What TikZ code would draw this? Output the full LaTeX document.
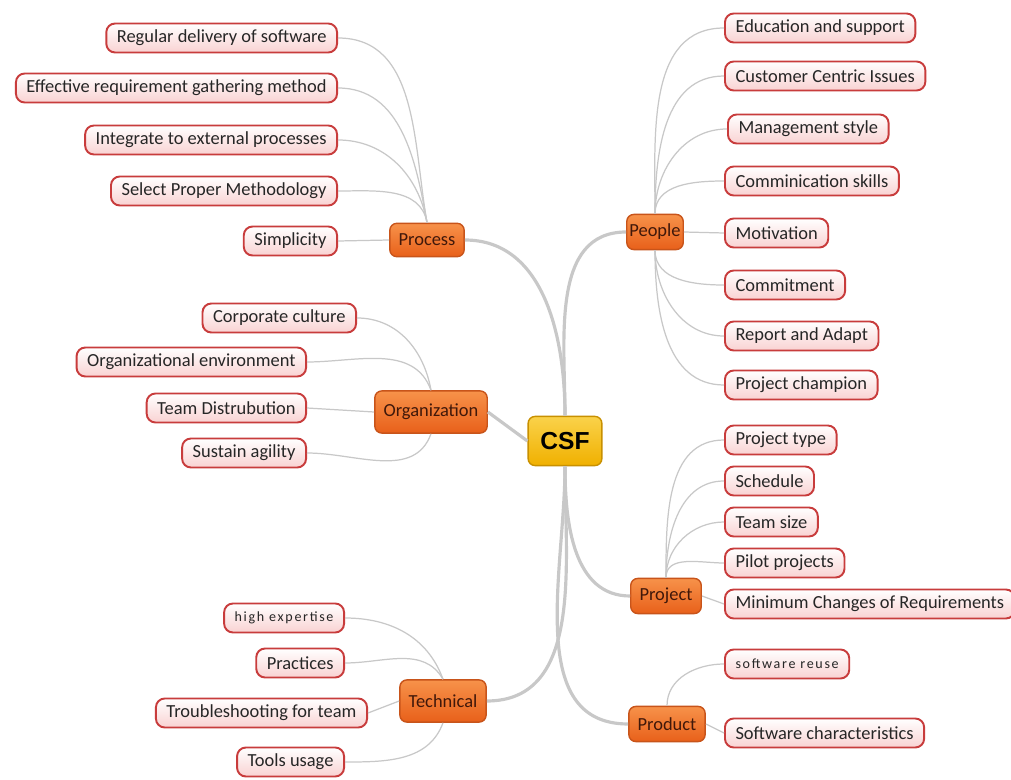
\documentclass[tikz,border=0pt]{standalone}
\usepackage{fontspec}
\setmainfont{Carlito}
\newfontfamily\hubfont{Liberation Sans}
\usepackage{tikz}
\usetikzlibrary{positioning,shapes.geometric,arrows.meta}
\definecolor{leafred}{HTML}{C83C3C}
\definecolor{leafpink}{HTML}{F9D2D2}
\definecolor{catlight}{HTML}{F7924A}
\definecolor{catorange}{HTML}{E8601A}
\definecolor{catborder}{HTML}{C8541A}
\definecolor{cattext}{HTML}{40180A}
\definecolor{csflight}{HTML}{FAD24A}
\definecolor{csfgold}{HTML}{F0B000}
\definecolor{csfborder}{HTML}{C89000}
\definecolor{linkgray}{HTML}{C8C8C8}

\tikzset{
  leaf/.style={draw=leafred, line width=1.1pt, rounded corners=5pt,
    top color=white, bottom color=leafpink, minimum height=16.5pt,
    inner xsep=6pt, font=\fontsize{10.5}{12}\selectfont, text=black!85},
  tiny/.style={font=\fontsize{8}{9}\selectfont\addfontfeatures{LetterSpace=12}},
  topic/.style={draw=catborder, line width=0.8pt, rounded corners=4pt,
    top color=catlight, bottom color=catorange, minimum height=19pt,
    inner xsep=5pt, font=\fontsize{10.5}{12}\selectfont, text=cattext},
  hub/.style={draw=csfborder, line width=0.8pt, rounded corners=4pt,
    top color=csflight, bottom color=csfgold, minimum height=28pt,
    minimum width=42pt, font=\hubfont\bfseries\fontsize{14}{16}\selectfont},
  twig/.style={draw=linkgray, line width=0.7pt},
  branch/.style={draw=linkgray, line width=1.8pt}
}

\begin{document}
\begin{tikzpicture}[x=0.02cm, y=-0.02cm]
  \fill[white] (0,0) rectangle (1011,780);
  \useasboundingbox (0,0) rectangle (1011,780);

  % centre and topics
  \node[hub] (csf) at (565,441) {CSF};
  \node[topic] (process) at (427,240) {Process};
  \node[topic, minimum height=24pt] (org) at (431,412) {Organization};
  \node[topic, inner xsep=1.5pt, minimum height=20pt] (people) at (655,232) {People};
  \node[topic, minimum height=20pt] (project) at (666,596) {Project};
  \node[topic, minimum height=20pt] (product) at (667,724) {Product};
  \node[topic, minimum height=24pt] (tech) at (443,701) {Technical};

  % process
  \node[leaf, anchor=east] (regular) at (338,38) {Regular delivery of software};
  \node[leaf, anchor=east] (gather) at (338,88) {Effective requirement gathering method};
  \node[leaf, anchor=east] (integrate) at (338,140) {Integrate to external processes};
  \node[leaf, anchor=east] (method) at (338,191) {Select Proper Methodology};
  \node[leaf, anchor=east] (simple) at (338,241) {Simplicity};

  % organization
  \node[leaf, anchor=east] (culture) at (357,318) {Corporate culture};
  \node[leaf, anchor=east] (environ) at (307,362) {Organizational environment};
  \node[leaf, anchor=east] (distrib) at (307,408) {Team Distrubution};
  \node[leaf, anchor=east] (agility) at (307,453) {Sustain agility};

  % technical
  \node[leaf, tiny, anchor=east] (expert) at (345,618) {high expertise};
  \node[leaf, anchor=east] (practice) at (345,663) {Practices};
  \node[leaf, anchor=east] (trouble) at (368,713) {Troubleshooting for team};
  \node[leaf, anchor=east] (tools) at (345,762) {Tools usage};

  % people
  \node[leaf, anchor=west] (educ) at (724,28) {Education and support};
  \node[leaf, anchor=west] (customer) at (724,76) {Customer Centric Issues};
  \node[leaf, anchor=west] (manage) at (727,129) {Management style};
  \node[leaf, anchor=west] (commun) at (724,181) {Comminication skills};
  \node[leaf, anchor=west] (motiv) at (724,233) {Motivation};
  \node[leaf, anchor=west] (commit) at (724,285) {Commitment};
  \node[leaf, anchor=west] (report) at (724,336) {Report and Adapt};
  \node[leaf, anchor=west] (champion) at (724,385) {Project champion};

  % project
  \node[leaf, anchor=west] (ptype) at (724,440) {Project type};
  \node[leaf, anchor=west] (sched) at (724,481) {Schedule};
  \node[leaf, anchor=west] (tsize) at (724,522) {Team size};
  \node[leaf, anchor=west] (pilot) at (724,563) {Pilot projects};
  \node[leaf, anchor=west] (minchg) at (724,604) {Minimum Changes of Requirements};

  % product
  \node[leaf, tiny, anchor=west] (reuse) at (724,664) {software reuse};
  \node[leaf, anchor=west] (charact) at (724,733) {Software characteristics};

  % branches
  \draw[branch] (csf.north) to[out=90, in=180] (people.west);
  \draw[branch] (process.east) to[out=0, in=90] (csf.north);
  \draw[branch] (org.east) -- (csf.west);
  \draw[branch] (csf.south) to[out=-90, in=0] (tech.east);
  \draw[branch] (csf.south) to[out=-90, in=180] (project.west);
  \draw[branch] (csf.south) to[out=-90, in=180] (product.west);

  % twigs
  \foreach \n in {regular,gather,integrate,method}
    \draw[twig] (process.north) to[out=100, in=0] (\n.east);
  \draw[twig] (process.west) -- (simple.east);
  \draw[twig] (org.north) to[out=100, in=0] (culture.east);
  \draw[twig] (org.north) to[out=110, in=0] (environ.east);
  \draw[twig] (org.west) -- (distrib.east);
  \draw[twig] (org.south) to[out=-110, in=0] (agility.east);
  \draw[twig] (tech.north) to[out=110, in=0] (expert.east);
  \draw[twig] (tech.north) to[out=120, in=0] (practice.east);
  \draw[twig] (tech.west) -- (trouble.east);
  \draw[twig] (tech.south) to[out=-110, in=0] (tools.east);
  \foreach \n in {educ,customer,manage,commun}
    \draw[twig] (people.north) to[out=90, in=180] (\n.west);
  \draw[twig] (people.east) -- (motiv.west);
  \foreach \n in {commit,report,champion}
    \draw[twig] (people.south) to[out=-90, in=180] (\n.west);
  \foreach \n in {ptype,sched,tsize,pilot}
    \draw[twig] (project.north) to[out=90, in=180] (\n.west);
  \draw[twig] (project.east) -- (minchg.west);
  \draw[twig] (product.north) to[out=90, in=180] (reuse.west);
  \draw[twig] (product.east) -- (charact.west);
\end{tikzpicture}
\end{document}
